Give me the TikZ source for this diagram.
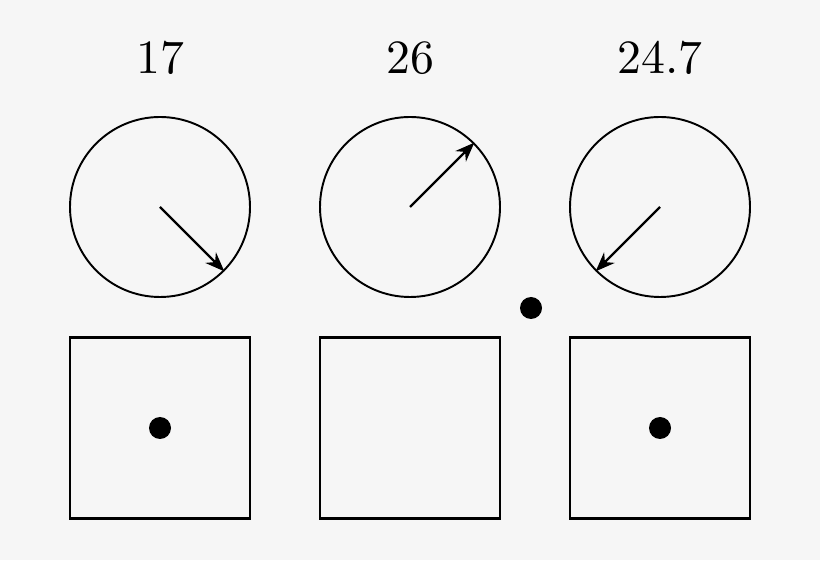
\documentclass[tikz,border=0pt]{standalone}
\usepackage{fontspec}
\usetikzlibrary{arrows.meta}
\definecolor{bgpaper}{HTML}{F6F6F6}
\tikzset{
  dial/.style={draw, circle, line width=1.1pt, minimum size=3.6cm, inner sep=0pt},
  box/.style={draw, rectangle, line width=1.2pt, minimum width=3.6cm, minimum height=3.62cm, inner sep=0pt},
  pip/.style={fill, circle, minimum size=0.44cm, inner sep=0pt},
  needle/.style={-{Stealth[length=11pt,width=8.5pt]}, line width=1.3pt},
  value/.style={font=\fontsize{10}{12}\selectfont, scale=2.72}
}
\begin{document}
\begin{tikzpicture}
\fill[bgpaper] (0,0) rectangle (16.4,11.2);
\useasboundingbox (0,0) rectangle (16.4,11.2);
% labels
\node[value] (v1) at (3.2,10.04) {17};
\node[value] (v2) at (8.2,10.04) {26};
\node[value] (v3) at (13.2,10.04) {24.7};
% dials
\node[dial] (d1) at (3.2,7.06) {};
\node[dial] (d2) at (8.2,7.06) {};
\node[dial] (d3) at (13.2,7.06) {};
\draw[needle] (d1.center) -- (d1.-45);
\draw[needle] (d2.center) -- (d2.45);
\draw[needle] (d3.center) -- (d3.-135);
% boxes
\node[box] (b1) at (3.2,2.64) {};
\node[box] (b2) at (8.2,2.64) {};
\node[box] (b3) at (13.2,2.64) {};
\node[pip] (p1) at (b1.center) {};
\node[pip] (p3) at (b3.center) {};
\node[pip] (p0) at (10.62,5.04) {};
\end{tikzpicture}
\end{document}
